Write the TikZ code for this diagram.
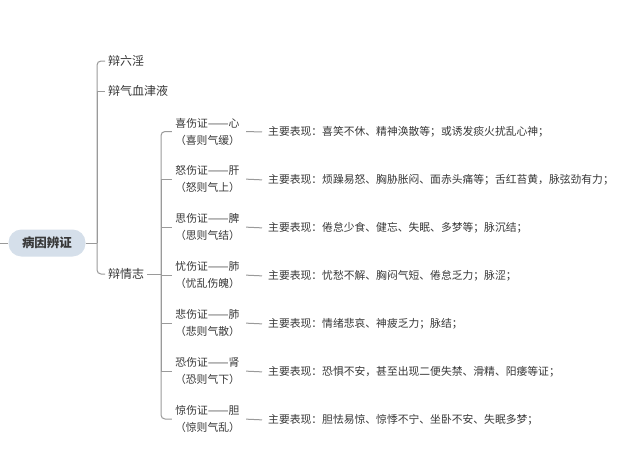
\documentclass[tikz,border=0pt]{standalone}
\usepackage{fontspec}
\setmainfont{Noto Sans CJK SC}
\definecolor{linec}{HTML}{9A9A9A}
\definecolor{txtc}{HTML}{383838}
\definecolor{rootfill}{HTML}{D5DFEA}
\newcommand{\ldash}{\scalebox{1.15}[1]{——}}
\begin{document}
\begin{tikzpicture}[x=1pt,y=-1pt,
  conn/.style={draw=linec,line width=1pt},
  rootbox/.style={fill=rootfill,rounded corners=13pt,minimum width=77pt,minimum height=27pt,inner sep=2pt,text=txtc,font=\fontsize{12.5}{15}\selectfont\bfseries},
  lvone/.style={anchor=west,inner sep=3pt,text=txtc,font=\fontsize{12}{14}\selectfont},
  lvtwo/.style={align=center,inner sep=3pt,text=txtc,font=\fontsize{10.8}{17}\selectfont},
  lvthree/.style={anchor=west,inner sep=3pt,text=txtc,font=\fontsize{10.8}{14}\selectfont}]
\useasboundingbox[fill=white] (0,0) rectangle (630,464);

\node[rootbox] (root) at (47,243) {病因辨证};
\coordinate (lft) at (0,243);
\coordinate (t1) at (97,243);
\coordinate (t2) at (161,274);

\node[lvone] (a) at (105,61) {辩六淫};
\node[lvone] (b) at (105,91) {辩气血津液};
\node[lvone] (c) at (105,274) {辩情志};

\draw[conn] (lft) -- (root.west);
\draw[conn] (root.east) -- (t1);
\draw[conn,rounded corners=4pt] (t1) |- (a.west);
\draw[conn] (t1) |- (b.west);
\draw[conn,rounded corners=4pt] (t1) |- (c.west);
\draw[conn] (c.east) -- (t2);

\node[lvtwo] (e1) at (207.5,131.5) {喜伤证\ldash 心\\（喜则气缓）};
\node[lvtwo] (e2) at (207.5,179) {怒伤证\ldash 肝\\（怒则气上）};
\node[lvtwo] (e3) at (207.5,227) {思伤证\ldash 脾\\（思则气结）};
\node[lvtwo] (e4) at (207.5,275) {忧伤证\ldash 肺\\（忧乱伤魄）};
\node[lvtwo] (e5) at (207.5,323) {悲伤证\ldash 肺\\（悲则气散）};
\node[lvtwo] (e6) at (207.5,371) {恐伤证\ldash 肾\\（恐则气下）};
\node[lvtwo] (e7) at (207.5,419) {惊伤证\ldash 胆\\（惊则气乱）};

\node[lvthree] (d1) at (265,132) {主要表现：喜笑不休、精神涣散等；或诱发痰火扰乱心神；};
\node[lvthree] (d2) at (265,180) {主要表现：烦躁易怒、胸胁胀闷、面赤头痛等；舌红苔黄，脉弦劲有力；};
\node[lvthree] (d3) at (265,228) {主要表现：倦怠少食、健忘、失眠、多梦等；脉沉结；};
\node[lvthree] (d4) at (265,276) {主要表现：忧愁不解、胸闷气短、倦怠乏力；脉涩；};
\node[lvthree] (d5) at (265,324) {主要表现：情绪悲哀、神疲乏力；脉结；};
\node[lvthree] (d6) at (265,372) {主要表现：恐惧不安，甚至出现二便失禁、滑精、阳痿等证；};
\node[lvthree] (d7) at (265,420) {主要表现：胆怯易惊、惊悸不宁、坐卧不安、失眠多梦；};

\draw[conn,rounded corners=4pt] (t2) |- (e1.west);
\foreach \i in {2,...,6} {\draw[conn] (t2) |- (e\i.west);}
\draw[conn,rounded corners=4pt] (t2) |- (e7.west);

\foreach \i in {1,...,7} {\draw[conn,shorten <=3pt,shorten >=3pt] (e\i.east) -- (d\i.west);}
\end{tikzpicture}
\end{document}
